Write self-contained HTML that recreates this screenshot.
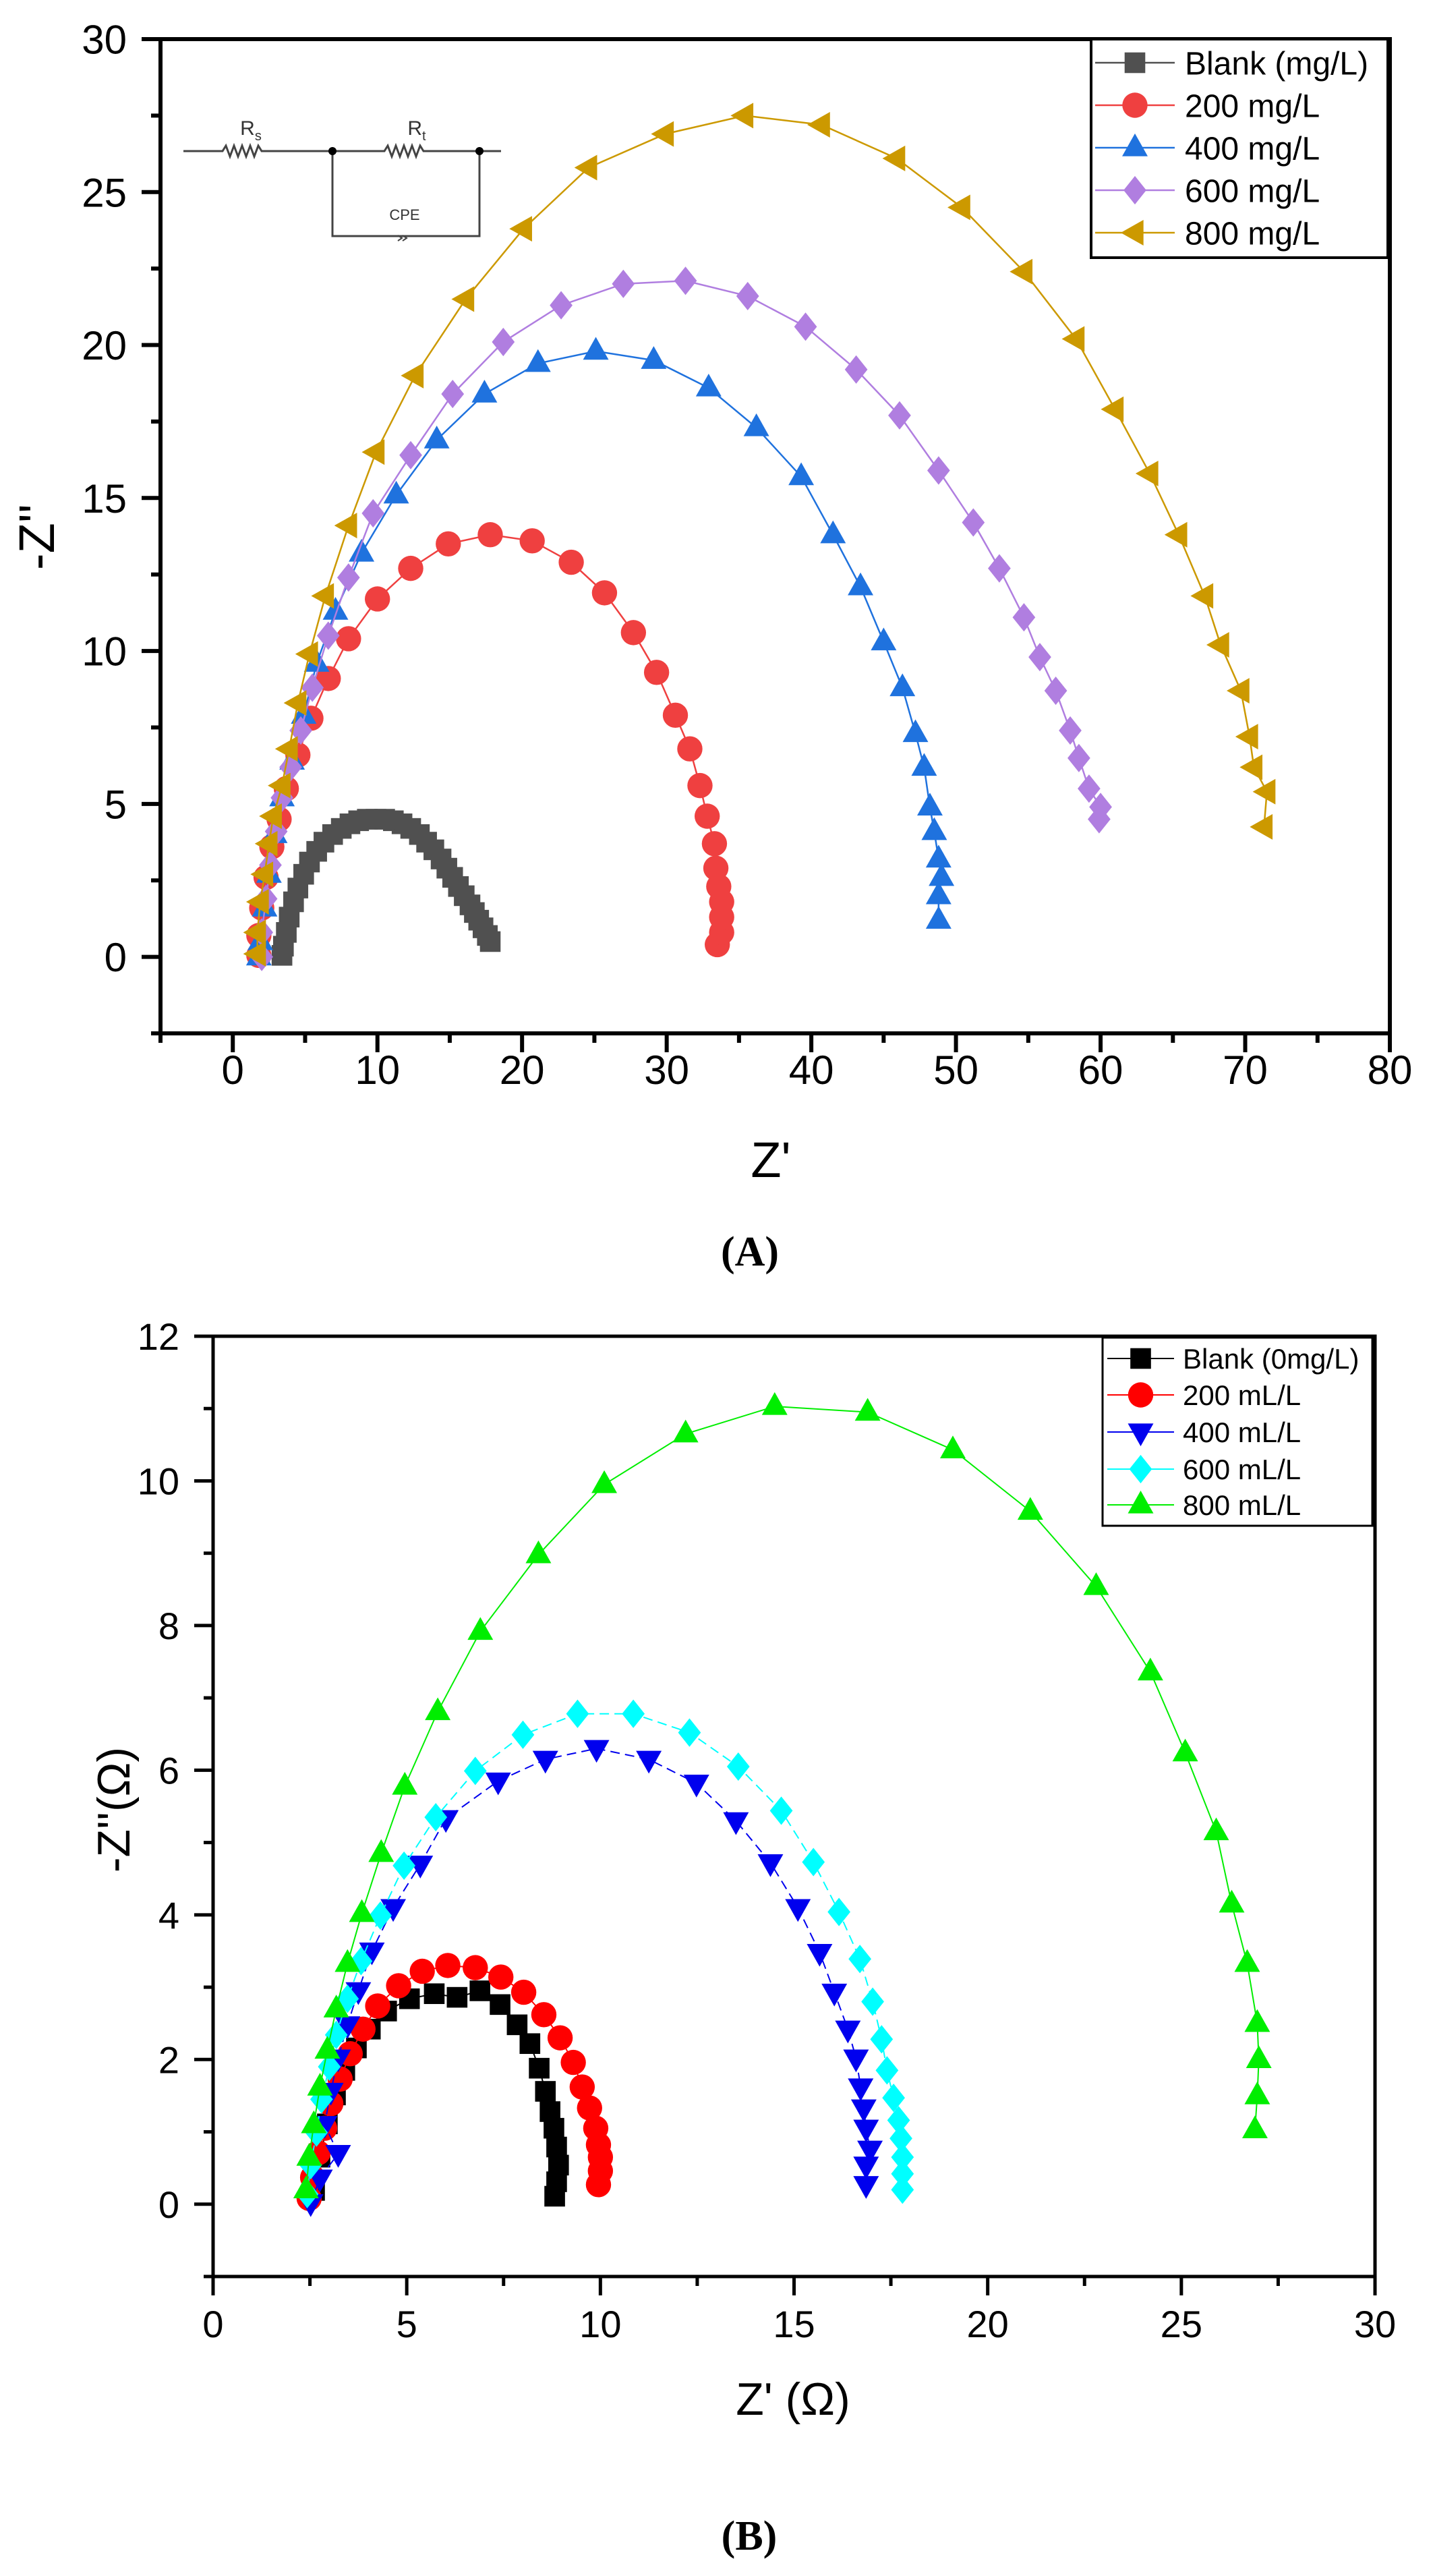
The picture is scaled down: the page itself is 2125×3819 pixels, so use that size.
<!DOCTYPE html>
<html><head><meta charset="utf-8">
<style>
html,body{margin:0;padding:0;background:#fff;}
svg{display:block;font-family:"Liberation Sans",sans-serif;}
</style></head>
<body>
<svg id="fig" width="2125" height="3819" viewBox="0 0 2125 3819" xmlns="http://www.w3.org/2000/svg">
<rect width="2125" height="3819" fill="#fff"/>
<g id="chartA"></g>
<g id="chartB"></g>
<g stroke="#444" stroke-width="3" fill="none">
  <path d="M272 224 H330 l5 -8 l6 16 l6 -16 l6 16 l6 -16 l6 16 l6 -16 l6 16 l6 -16 l5 8 H570 l5 -8 l6 16 l6 -16 l6 16 l6 -16 l6 16 l6 -16 l6 16 l6 -16 l5 8 H743"/>
  <path d="M493 224 V350 H711 V224"/>
  <path d="M590 357 l6 -4 l-6 -4 M597 357 l6 -4 l-6 -4" stroke-width="2"/>
  <circle cx="493" cy="224" r="6" fill="#000" stroke="none"/>
  <circle cx="711" cy="224" r="6" fill="#000" stroke="none"/>
</g>
<text x="372" y="200" font-size="30" fill="#333" text-anchor="middle">R<tspan font-size="20" dy="8">s</tspan></text>
<text x="618" y="200" font-size="30" fill="#333" text-anchor="middle">R<tspan font-size="20" dy="8">t</tspan></text>
<text x="600" y="326" font-size="22" fill="#333" text-anchor="middle">CPE</text>
<text x="1112" y="1876" font-size="62" font-weight="bold" font-family="Liberation Serif, serif" text-anchor="middle">(A)</text>
<text x="1111" y="3780" font-size="62" font-weight="bold" font-family="Liberation Serif, serif" text-anchor="middle">(B)</text>
</svg>
<script>
// ---- Chart A data ----
const aNames = ["Blank (mg/L)","200 mg/L","400 mg/L","600 mg/L","800 mg/L"];
const aBlankX=[17.8,17.6,17.3,17.0,16.7,16.4,16.0,15.6,15.2,14.8,14.4,13.9,13.4,12.9,12.3,11.7,11.1,10.5,9.9,9.3,8.7,8.1,7.5,6.9,6.3,5.8,5.3,4.9,4.5,4.2,3.9,3.7,3.5,3.4];
const aBlankY=[0.5,0.7,0.95,1.2,1.45,1.7,2.0,2.3,2.6,2.9,3.2,3.5,3.75,4.0,4.2,4.35,4.45,4.5,4.5,4.5,4.45,4.35,4.2,4.0,3.75,3.45,3.1,2.7,2.25,1.8,1.3,0.8,0.35,0.05];
const a200X=[33.5,33.8,33.8,33.8,33.6,33.4,33.3,32.8,32.3,31.6,30.6,29.3,27.7,25.7,23.4,20.7,17.8,14.9,12.3,10.0,8.0,6.6,5.4,4.5,3.7,3.2,2.7,2.3,2.0,1.8,1.8];
const a200Y=[0.4,0.8,1.3,1.8,2.3,2.9,3.7,4.6,5.6,6.8,7.9,9.3,10.6,11.9,12.9,13.6,13.8,13.5,12.7,11.7,10.4,9.1,7.8,6.6,5.5,4.5,3.6,2.6,1.6,0.7,0.05];
const a400X=[48.8,48.8,49.0,48.8,48.5,48.2,47.8,47.2,46.3,45.0,43.4,41.5,39.3,36.2,32.9,29.1,25.1,21.1,17.4,14.1,11.3,8.9,7.1,5.8,4.9,4.1,3.4,2.9,2.5,2.2,1.9,1.8];
const a400Y=[1.2,2.0,2.6,3.2,4.1,4.9,6.2,7.3,8.8,10.3,12.1,13.8,15.7,17.3,18.6,19.5,19.8,19.4,18.4,16.9,15.1,13.2,11.3,9.6,7.9,6.4,5.2,4.0,2.7,1.6,0.5,0.0];
const a600X=[59.9,60.0,59.2,58.5,57.9,56.9,55.8,54.7,53.0,51.2,48.8,46.1,43.1,39.6,35.6,31.3,27.0,22.7,18.7,15.2,12.3,9.7,8.0,6.6,5.5,4.7,4.0,3.4,3.0,2.6,2.3,2.0,2.0];
const a600Y=[4.5,4.9,5.5,6.5,7.4,8.7,9.8,11.1,12.7,14.2,15.9,17.7,19.2,20.6,21.6,22.1,22.0,21.3,20.1,18.4,16.4,14.5,12.4,10.5,8.8,7.4,6.2,5.2,4.1,3.0,1.9,0.8,0.0];
const a800X=[71.3,71.5,70.6,70.3,69.7,68.3,67.2,65.4,63.4,61.0,58.3,54.7,50.4,45.9,40.7,35.4,29.9,24.6,20.1,16.1,12.6,9.9,8.0,6.4,5.3,4.5,3.9,3.4,2.8,2.5,2.2,1.9,1.7,1.7];
const a800Y=[4.25,5.4,6.2,7.2,8.7,10.2,11.8,13.8,15.8,17.9,20.2,22.4,24.5,26.1,27.2,27.5,26.9,25.8,23.8,21.5,19.0,16.5,14.1,11.8,9.9,8.3,6.8,5.6,4.6,3.7,2.7,1.8,0.8,0.1];
const aXTicks=[0,10,20,30,40,50,60,70,80];
const aYTicks=[0,5,10,15,20,25,30];
// ---- Chart B data ----
const bNames=["Blank (0mg/L)","200 mL/L","400 mL/L","600 mL/L","800 mL/L"];
const bBlankX=[8.82,8.87,8.92,8.87,8.8,8.7,8.58,8.42,8.18,7.85,7.41,6.89,6.3,5.71,5.07,4.48,4.06,3.7,3.4,3.16,2.95,2.76,2.62];
const bBlankY=[0.11,0.31,0.54,0.79,1.05,1.28,1.56,1.88,2.22,2.48,2.76,2.95,2.86,2.91,2.84,2.67,2.42,2.16,1.85,1.51,1.11,0.65,0.19];
const b200X=[9.95,10.0,10.0,9.95,9.88,9.72,9.53,9.3,8.96,8.54,8.02,7.43,6.77,6.06,5.4,4.79,4.25,3.87,3.54,3.28,3.04,2.88,2.71,2.57,2.48];
const b200Y=[0.27,0.46,0.65,0.82,1.05,1.33,1.62,1.96,2.3,2.62,2.93,3.14,3.27,3.3,3.22,3.02,2.74,2.42,2.08,1.73,1.39,1.05,0.71,0.37,0.08];
const b400X=[16.86,16.86,16.96,16.86,16.8,16.72,16.6,16.39,16.04,15.66,15.1,14.39,13.5,12.48,11.25,9.9,8.58,7.36,6.01,5.35,4.65,4.1,3.75,3.47,3.23,3.04,2.88,3.23,2.76,2.52];
const b400Y=[0.27,0.54,0.76,1.05,1.33,1.62,2.02,2.42,2.93,3.48,4.1,4.72,5.3,5.82,6.15,6.3,6.15,5.85,5.33,4.7,4.1,3.5,2.95,2.48,2.02,1.56,1.1,0.7,0.36,0.02];
const b600X=[17.8,17.8,17.8,17.76,17.7,17.57,17.4,17.26,17.03,16.7,16.16,15.5,14.67,13.56,12.3,10.85,9.41,8.0,6.77,5.75,4.93,4.32,3.82,3.47,3.18,3.0,2.8,2.67,2.52,2.43];
const b600Y=[0.2,0.42,0.65,0.91,1.16,1.47,1.85,2.28,2.8,3.39,4.04,4.73,5.44,6.05,6.52,6.78,6.78,6.49,5.99,5.35,4.68,3.99,3.36,2.84,2.34,1.9,1.45,0.99,0.54,0.14];
const b800X=[26.9,26.96,27.0,26.96,26.7,26.3,25.9,25.1,24.2,22.8,21.1,19.1,16.9,14.5,12.2,10.1,8.4,6.9,5.8,4.95,4.34,3.84,3.47,3.18,2.95,2.76,2.6,2.48,2.4];
const b800Y=[1.03,1.5,2.0,2.5,3.33,4.15,5.15,6.24,7.36,8.54,9.58,10.43,10.95,11.03,10.65,9.95,8.98,7.92,6.81,5.78,4.85,4.02,3.33,2.7,2.13,1.62,1.1,0.65,0.2];
const bXTicks=[0,5,10,15,20,25,30];
const bYTicks=[0,2,4,6,8,10,12];

const NS="http://www.w3.org/2000/svg";
function mk(tag,attrs,parent){const e=document.createElementNS(NS,tag);for(const k in attrs)e.setAttribute(k,attrs[k]);parent.appendChild(e);return e;}

function marker(g,shape,cx,cy,s,color){
  let e;
  if(shape==="circle"){e=mk("circle",{cx:cx,cy:cy,r:s*0.55,fill:color},g);}
  else if(shape==="square"){e=mk("rect",{x:cx-s*0.45,y:cy-s*0.45,width:s*0.9,height:s*0.9,fill:color},g);}
  else{
    let p;
    const r=s*0.62;
    if(shape==="up")p=[[cx,cy-r],[cx+r*0.9,cy+r*0.6],[cx-r*0.9,cy+r*0.6]];
    else if(shape==="down")p=[[cx,cy+r],[cx+r*0.9,cy-r*0.6],[cx-r*0.9,cy-r*0.6]];
    else if(shape==="left")p=[[cx-r,cy],[cx+r*0.6,cy-r*0.9],[cx+r*0.6,cy+r*0.9]];
    else p=[[cx,cy-r],[cx+r*0.8,cy],[cx,cy+r],[cx-r*0.8,cy]];
    e=mk("polygon",{points:p.map(q=>q.join(",")).join(" "),fill:color},g);
  }
  return e;
}

function chart(cfg){
  const g=document.getElementById(cfg.id);
  const sx=v=>cfg.L+(v-cfg.xmin)/(cfg.xmax-cfg.xmin)*(cfg.R-cfg.L);
  const sy=v=>cfg.B-(v-cfg.ymin)/(cfg.ymax-cfg.ymin)*(cfg.B-cfg.T);
  cfg.series.forEach((s,i)=>{
    const sg=mk("g",{},g);
    
    
    const pts=s.x.map((v,j)=>sx(v)+","+sy(s.y[j])).join(" ");
    const pl=mk("polyline",{points:pts,fill:"none",stroke:s.line||s.color,"stroke-width":cfg.lw,"stroke-dasharray":s.dash||"none"},sg);
    
    
    s.x.forEach((v,j)=>{
      const m=marker(sg,s.shape,sx(v),sy(s.y[j]),cfg.ms,s.color);
      
      
    });
  });
  const fr=mk("rect",{x:cfg.L,y:cfg.T,width:cfg.R-cfg.L,height:cfg.B-cfg.T,fill:"none",stroke:"#000","stroke-width":cfg.aw},g);
  
  
  cfg.xticks.forEach(v=>{
    const x=sx(v);
    const t=mk("line",{x1:x,x2:x,y1:cfg.B,y2:cfg.B+cfg.tl,stroke:"#000","stroke-width":cfg.aw},g);
    
    
    const lb=mk("text",{x:x,y:cfg.B+cfg.xlOff,"font-size":cfg.fs,"text-anchor":"middle"},g);
    lb.textContent=v;
    
    
  });
  for(let v=cfg.xmin;v<=cfg.xmax+1e-9;v+=cfg.xminor){
    if(cfg.xticks.some(t=>Math.abs(t-v)<1e-6))continue;
    const x=sx(v);
    const t=mk("line",{x1:x,x2:x,y1:cfg.B,y2:cfg.B+cfg.tl*0.5,stroke:"#000","stroke-width":cfg.aw},g);
    
    
  }
  cfg.yticks.forEach(v=>{
    const y=sy(v);
    const t=mk("line",{x1:cfg.L-cfg.tl,x2:cfg.L,y1:y,y2:y,stroke:"#000","stroke-width":cfg.aw},g);
    
    
    const lb=mk("text",{x:cfg.L-cfg.ylOff,y:y+cfg.fs*0.36,"font-size":cfg.fs,"text-anchor":"end"},g);
    lb.textContent=v;
    
    
  });
  for(let v=cfg.ymin;v<=cfg.ymax+1e-9;v+=cfg.yminor){
    if(cfg.yticks.some(t=>Math.abs(t-v)<1e-6))continue;
    const y=sy(v);
    const t=mk("line",{x1:cfg.L-cfg.tl*0.5,x2:cfg.L,y1:y,y2:y,stroke:"#000","stroke-width":cfg.aw},g);
    
    
  }
  const xt=mk("text",{x:cfg.xtx,y:cfg.xty,"font-size":cfg.tfs,"text-anchor":"middle"},g);
  xt.textContent=cfg.xtitle;
  
  
  const yt=mk("text",{x:0,y:0,"font-size":cfg.tfs,"text-anchor":"middle",transform:"translate("+cfg.ytx+","+cfg.yty+") rotate(-90)"},g);
  yt.textContent=cfg.ytitle;
  
  
  const lg=mk("g",{},g);
  
  
  const lr=mk("rect",{x:cfg.lg.x,y:cfg.lg.y,width:cfg.lg.w,height:cfg.lg.h,fill:"#fff",stroke:"#000","stroke-width":cfg.lg.bw},lg);
  
  
  cfg.series.forEach((s,i)=>{
    const y=cfg.lg.ys[i];
    const eg=mk("g",{},lg);
    
    
    mk("line",{x1:cfg.lg.l1,x2:cfg.lg.l2,y1:y,y2:y,stroke:s.line||s.color,"stroke-width":cfg.lw},eg);
    marker(eg,s.shape,(cfg.lg.l1+cfg.lg.l2)/2,y,cfg.ms,s.color);
    const t=mk("text",{x:cfg.lg.tx,y:y+cfg.lg.fs*0.36,"font-size":cfg.lg.fs},eg);
    t.textContent=cfg.names[i];
  });
}

chart({id:"chartA",L:238,R:2061,T:58,B:1532,xmin:-5,xmax:80,ymin:-2.5,ymax:30,
  xticks:aXTicks,yticks:aYTicks,xminor:5,yminor:2.5,aw:6,tl:28,fs:60,xlOff:75,ylOff:50,lw:2.5,ms:34,
  xtitle:"Z'",ytitle:"-Z''",xtx:1143,xty:1745,ytx:80,yty:796,tfs:74,names:aNames,
  lg:{x:1618,y:58,w:440,h:324,bw:4,ys:[93,156,219,282,345],l1:1624,l2:1742,tx:1757,fs:48},
  series:[
    {key:"blank",x:aBlankX,y:aBlankY,color:"#505050",shape:"square"},
    {key:"200",x:a200X,y:a200Y,color:"#ef4040",shape:"circle"},
    {key:"400",x:a400X,y:a400Y,color:"#1f72de",shape:"up"},
    {key:"600",x:a600X,y:a600Y,color:"#b07ee0",shape:"diamond"},
    {key:"800",x:a800X,y:a800Y,color:"#cc9900",shape:"left"}]});

chart({id:"chartB",L:316,R:2039,T:1981,B:3375,xmin:0,xmax:30,ymin:-1,ymax:12,
  xticks:bXTicks,yticks:bYTicks,xminor:2.5,yminor:1,aw:5,tl:28,fs:56,xlOff:90,ylOff:50,lw:2,ms:34,
  xtitle:"Z' (\u03A9)",ytitle:"-Z''(\u03A9)",xtx:1176,xty:3580,ytx:192,yty:2683,tfs:68,names:bNames,
  lg:{x:1635,y:1983,w:400,h:279,bw:3,ys:[2014,2068,2123,2178,2231],l1:1642,l2:1741,tx:1754,fs:42},
  series:[
    {key:"blank",x:bBlankX,y:bBlankY,color:"#000",shape:"square"},
    {key:"200",x:b200X,y:b200Y,color:"#ff0000",shape:"circle"},
    {key:"400",x:b400X,y:b400Y,color:"#0000ee",shape:"down",dash:"14,8"},
    {key:"600",x:b600X,y:b600Y,color:"#00ffff",shape:"diamond",dash:"14,8"},
    {key:"800",x:b800X,y:b800Y,color:"#00ee00",shape:"up"}]});
</script>
</body></html>
